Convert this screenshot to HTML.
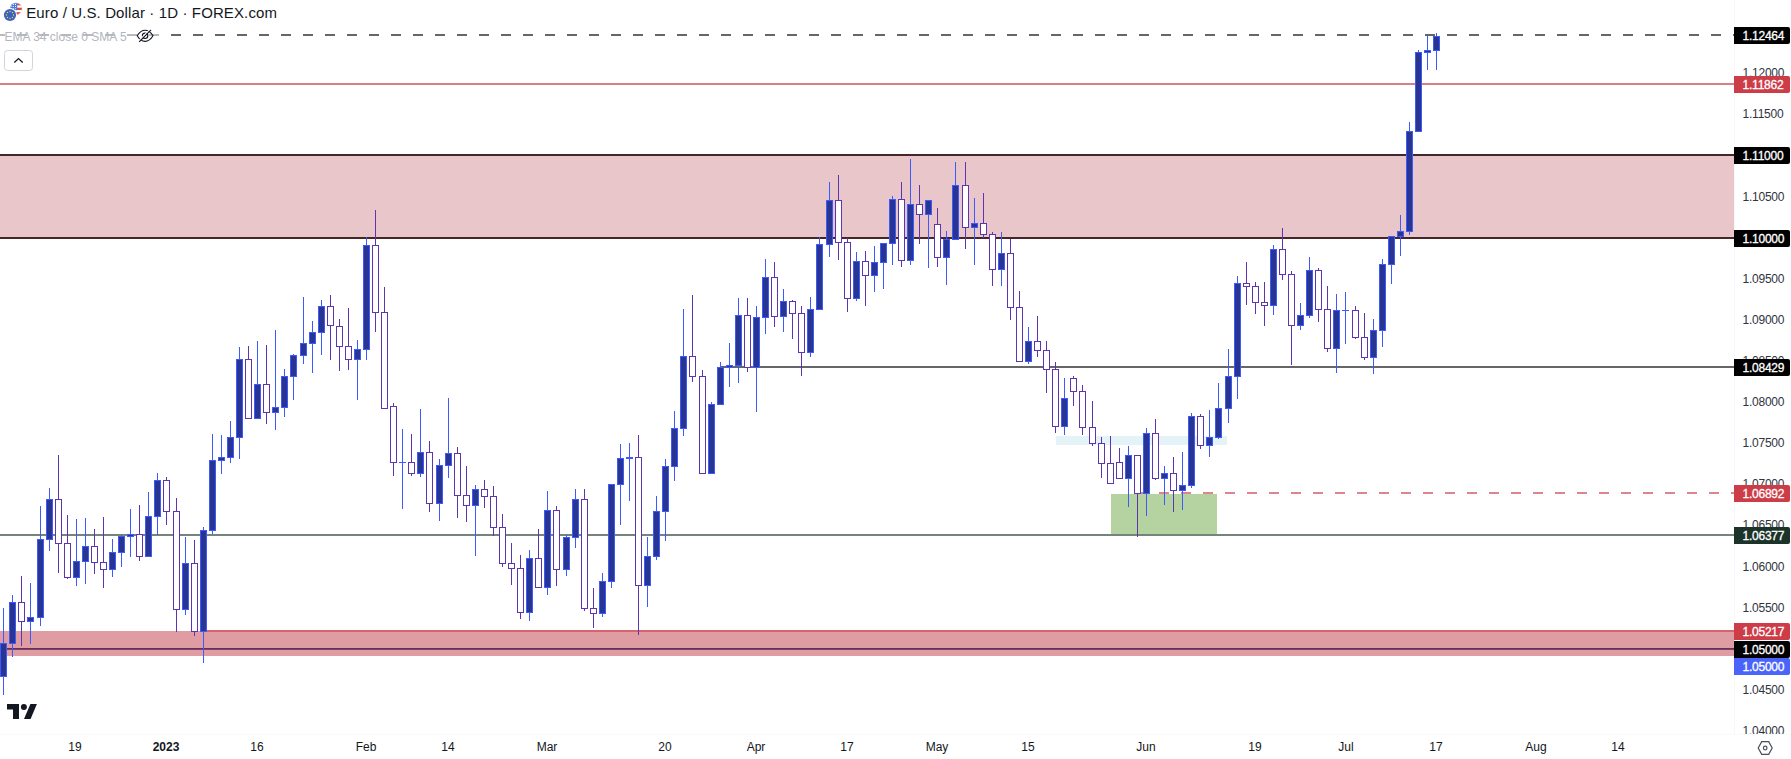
<!DOCTYPE html><html><head><meta charset="utf-8"><title>EURUSD</title><style>html,body{margin:0;padding:0;background:#fff}body{width:1791px;height:759px;overflow:hidden}</style></head><body><svg width="1791" height="759" viewBox="0 0 1791 759" style="display:block;font-family:'Liberation Sans', sans-serif">
<rect width="1791" height="759" fill="#fff"/>
<g shape-rendering="crispEdges">
<rect x="0" y="155" width="1734" height="83" fill="#e9c6ca"/>
<rect x="0" y="154" width="1734" height="2" fill="#47262a"/>
<rect x="0" y="237" width="1734" height="2" fill="#47262a"/>
<rect x="0" y="631" width="1734" height="25" fill="#df9ca3"/>
<rect x="204" y="630" width="1530" height="2" fill="#d6646c"/>
<rect x="0" y="648" width="1734" height="1" fill="#74303a"/>
<rect x="0" y="649" width="1734" height="1" fill="#6c4585"/>
<rect x="1056" y="436" width="171" height="9" fill="#e4f3f8"/>
<rect x="1111" y="494" width="106" height="41" fill="#b5d3a1"/>
<rect x="0" y="83" width="1734" height="2" fill="#d67f86"/>
<rect x="720" y="366" width="1014" height="2" fill="#666666"/>
<rect x="0" y="534" width="1734" height="2" fill="#74857c"/>
<rect x="0.0" y="34" width="5.2" height="2" fill="#666666"/>
<rect x="17.2" y="34" width="10.0" height="2" fill="#666666"/>
<rect x="39.2" y="34" width="10.0" height="2" fill="#666666"/>
<rect x="61.2" y="34" width="10.0" height="2" fill="#666666"/>
<rect x="83.2" y="34" width="10.0" height="2" fill="#666666"/>
<rect x="105.2" y="34" width="10.0" height="2" fill="#666666"/>
<rect x="127.2" y="34" width="10.0" height="2" fill="#666666"/>
<rect x="149.2" y="34" width="10.0" height="2" fill="#666666"/>
<rect x="171.2" y="34" width="10.0" height="2" fill="#666666"/>
<rect x="193.2" y="34" width="10.0" height="2" fill="#666666"/>
<rect x="215.2" y="34" width="10.0" height="2" fill="#666666"/>
<rect x="237.2" y="34" width="10.0" height="2" fill="#666666"/>
<rect x="259.2" y="34" width="10.0" height="2" fill="#666666"/>
<rect x="281.2" y="34" width="10.0" height="2" fill="#666666"/>
<rect x="303.2" y="34" width="10.0" height="2" fill="#666666"/>
<rect x="325.2" y="34" width="10.0" height="2" fill="#666666"/>
<rect x="347.2" y="34" width="10.0" height="2" fill="#666666"/>
<rect x="369.2" y="34" width="10.0" height="2" fill="#666666"/>
<rect x="391.2" y="34" width="10.0" height="2" fill="#666666"/>
<rect x="413.2" y="34" width="10.0" height="2" fill="#666666"/>
<rect x="435.2" y="34" width="10.0" height="2" fill="#666666"/>
<rect x="457.2" y="34" width="10.0" height="2" fill="#666666"/>
<rect x="479.2" y="34" width="10.0" height="2" fill="#666666"/>
<rect x="501.2" y="34" width="10.0" height="2" fill="#666666"/>
<rect x="523.2" y="34" width="10.0" height="2" fill="#666666"/>
<rect x="545.2" y="34" width="10.0" height="2" fill="#666666"/>
<rect x="567.2" y="34" width="10.0" height="2" fill="#666666"/>
<rect x="589.2" y="34" width="10.0" height="2" fill="#666666"/>
<rect x="611.2" y="34" width="10.0" height="2" fill="#666666"/>
<rect x="633.2" y="34" width="10.0" height="2" fill="#666666"/>
<rect x="655.2" y="34" width="10.0" height="2" fill="#666666"/>
<rect x="677.2" y="34" width="10.0" height="2" fill="#666666"/>
<rect x="699.2" y="34" width="10.0" height="2" fill="#666666"/>
<rect x="721.2" y="34" width="10.0" height="2" fill="#666666"/>
<rect x="743.2" y="34" width="10.0" height="2" fill="#666666"/>
<rect x="765.2" y="34" width="10.0" height="2" fill="#666666"/>
<rect x="787.2" y="34" width="10.0" height="2" fill="#666666"/>
<rect x="809.2" y="34" width="10.0" height="2" fill="#666666"/>
<rect x="831.2" y="34" width="10.0" height="2" fill="#666666"/>
<rect x="853.2" y="34" width="10.0" height="2" fill="#666666"/>
<rect x="875.2" y="34" width="10.0" height="2" fill="#666666"/>
<rect x="897.2" y="34" width="10.0" height="2" fill="#666666"/>
<rect x="919.2" y="34" width="10.0" height="2" fill="#666666"/>
<rect x="941.2" y="34" width="10.0" height="2" fill="#666666"/>
<rect x="963.2" y="34" width="10.0" height="2" fill="#666666"/>
<rect x="985.2" y="34" width="10.0" height="2" fill="#666666"/>
<rect x="1007.2" y="34" width="10.0" height="2" fill="#666666"/>
<rect x="1029.2" y="34" width="10.0" height="2" fill="#666666"/>
<rect x="1051.2" y="34" width="10.0" height="2" fill="#666666"/>
<rect x="1073.2" y="34" width="10.0" height="2" fill="#666666"/>
<rect x="1095.2" y="34" width="10.0" height="2" fill="#666666"/>
<rect x="1117.2" y="34" width="10.0" height="2" fill="#666666"/>
<rect x="1139.2" y="34" width="10.0" height="2" fill="#666666"/>
<rect x="1161.2" y="34" width="10.0" height="2" fill="#666666"/>
<rect x="1183.2" y="34" width="10.0" height="2" fill="#666666"/>
<rect x="1205.2" y="34" width="10.0" height="2" fill="#666666"/>
<rect x="1227.2" y="34" width="10.0" height="2" fill="#666666"/>
<rect x="1249.2" y="34" width="10.0" height="2" fill="#666666"/>
<rect x="1271.2" y="34" width="10.0" height="2" fill="#666666"/>
<rect x="1293.2" y="34" width="10.0" height="2" fill="#666666"/>
<rect x="1315.2" y="34" width="10.0" height="2" fill="#666666"/>
<rect x="1337.2" y="34" width="10.0" height="2" fill="#666666"/>
<rect x="1359.2" y="34" width="10.0" height="2" fill="#666666"/>
<rect x="1381.2" y="34" width="10.0" height="2" fill="#666666"/>
<rect x="1403.2" y="34" width="10.0" height="2" fill="#666666"/>
<rect x="1425.2" y="34" width="10.0" height="2" fill="#666666"/>
<rect x="1447.2" y="34" width="10.0" height="2" fill="#666666"/>
<rect x="1469.2" y="34" width="10.0" height="2" fill="#666666"/>
<rect x="1491.2" y="34" width="10.0" height="2" fill="#666666"/>
<rect x="1513.2" y="34" width="10.0" height="2" fill="#666666"/>
<rect x="1535.2" y="34" width="10.0" height="2" fill="#666666"/>
<rect x="1557.2" y="34" width="10.0" height="2" fill="#666666"/>
<rect x="1579.2" y="34" width="10.0" height="2" fill="#666666"/>
<rect x="1601.2" y="34" width="10.0" height="2" fill="#666666"/>
<rect x="1623.2" y="34" width="10.0" height="2" fill="#666666"/>
<rect x="1645.2" y="34" width="10.0" height="2" fill="#666666"/>
<rect x="1667.2" y="34" width="10.0" height="2" fill="#666666"/>
<rect x="1689.2" y="34" width="10.0" height="2" fill="#666666"/>
<rect x="1711.2" y="34" width="10.0" height="2" fill="#666666"/>
<rect x="1733.2" y="34" width="0.8" height="2" fill="#666666"/>
<rect x="1137" y="492" width="10" height="2" fill="#dc8590"/>
<rect x="1159" y="492" width="10" height="2" fill="#dc8590"/>
<rect x="1181" y="492" width="10" height="2" fill="#dc8590"/>
<rect x="1203" y="492" width="10" height="2" fill="#dc8590"/>
<rect x="1225" y="492" width="10" height="2" fill="#dc8590"/>
<rect x="1247" y="492" width="10" height="2" fill="#dc8590"/>
<rect x="1269" y="492" width="10" height="2" fill="#dc8590"/>
<rect x="1291" y="492" width="10" height="2" fill="#dc8590"/>
<rect x="1313" y="492" width="10" height="2" fill="#dc8590"/>
<rect x="1335" y="492" width="10" height="2" fill="#dc8590"/>
<rect x="1357" y="492" width="10" height="2" fill="#dc8590"/>
<rect x="1379" y="492" width="10" height="2" fill="#dc8590"/>
<rect x="1401" y="492" width="10" height="2" fill="#dc8590"/>
<rect x="1423" y="492" width="10" height="2" fill="#dc8590"/>
<rect x="1445" y="492" width="10" height="2" fill="#dc8590"/>
<rect x="1467" y="492" width="10" height="2" fill="#dc8590"/>
<rect x="1489" y="492" width="10" height="2" fill="#dc8590"/>
<rect x="1511" y="492" width="10" height="2" fill="#dc8590"/>
<rect x="1533" y="492" width="10" height="2" fill="#dc8590"/>
<rect x="1555" y="492" width="10" height="2" fill="#dc8590"/>
<rect x="1577" y="492" width="10" height="2" fill="#dc8590"/>
<rect x="1599" y="492" width="10" height="2" fill="#dc8590"/>
<rect x="1621" y="492" width="10" height="2" fill="#dc8590"/>
<rect x="1643" y="492" width="10" height="2" fill="#dc8590"/>
<rect x="1665" y="492" width="10" height="2" fill="#dc8590"/>
<rect x="1687" y="492" width="10" height="2" fill="#dc8590"/>
<rect x="1709" y="492" width="10" height="2" fill="#dc8590"/>
<rect x="1731" y="492" width="3" height="2" fill="#dc8590"/>
</g>
<g shape-rendering="crispEdges">
<rect x="3" y="608" width="1" height="87" fill="#3d5afe"/>
<rect x="0" y="643" width="7" height="34" fill="#3d5afe"/>
<rect x="1" y="644" width="5" height="32" fill="#283593"/>
<rect x="12" y="595" width="1" height="62" fill="#3d5afe"/>
<rect x="9" y="602" width="7" height="42" fill="#3d5afe"/>
<rect x="10" y="603" width="5" height="40" fill="#283593"/>
<rect x="21" y="576" width="1" height="70" fill="#5e35b1"/>
<rect x="18" y="602" width="7" height="20" fill="#5e35b1"/>
<rect x="19" y="603" width="5" height="18" fill="#ffffff"/>
<rect x="30" y="583" width="1" height="61" fill="#3d5afe"/>
<rect x="27" y="617" width="7" height="5" fill="#3d5afe"/>
<rect x="28" y="618" width="5" height="3" fill="#283593"/>
<rect x="40" y="506" width="1" height="120" fill="#3d5afe"/>
<rect x="37" y="539" width="7" height="79" fill="#3d5afe"/>
<rect x="38" y="540" width="5" height="77" fill="#283593"/>
<rect x="49" y="488" width="1" height="63" fill="#3d5afe"/>
<rect x="46" y="499" width="7" height="41" fill="#3d5afe"/>
<rect x="47" y="500" width="5" height="39" fill="#283593"/>
<rect x="58" y="455" width="1" height="118" fill="#5e35b1"/>
<rect x="55" y="499" width="7" height="45" fill="#5e35b1"/>
<rect x="56" y="500" width="5" height="43" fill="#ffffff"/>
<rect x="67" y="515" width="1" height="64" fill="#5e35b1"/>
<rect x="64" y="543" width="7" height="35" fill="#5e35b1"/>
<rect x="65" y="544" width="5" height="33" fill="#ffffff"/>
<rect x="76" y="519" width="1" height="67" fill="#3d5afe"/>
<rect x="73" y="561" width="7" height="17" fill="#3d5afe"/>
<rect x="74" y="562" width="5" height="15" fill="#283593"/>
<rect x="85" y="518" width="1" height="66" fill="#3d5afe"/>
<rect x="82" y="546" width="7" height="16" fill="#3d5afe"/>
<rect x="83" y="547" width="5" height="14" fill="#283593"/>
<rect x="94" y="529" width="1" height="45" fill="#5e35b1"/>
<rect x="91" y="546" width="7" height="17" fill="#5e35b1"/>
<rect x="92" y="547" width="5" height="15" fill="#ffffff"/>
<rect x="103" y="517" width="1" height="71" fill="#5e35b1"/>
<rect x="100" y="562" width="7" height="8" fill="#5e35b1"/>
<rect x="101" y="563" width="5" height="6" fill="#ffffff"/>
<rect x="112" y="539" width="1" height="38" fill="#3d5afe"/>
<rect x="109" y="552" width="7" height="18" fill="#3d5afe"/>
<rect x="110" y="553" width="5" height="16" fill="#283593"/>
<rect x="121" y="535" width="1" height="32" fill="#3d5afe"/>
<rect x="118" y="536" width="7" height="17" fill="#3d5afe"/>
<rect x="119" y="537" width="5" height="15" fill="#283593"/>
<rect x="130" y="509" width="1" height="48" fill="#3d5afe"/>
<rect x="127" y="534" width="7" height="3" fill="#3d5afe"/>
<rect x="128" y="535" width="5" height="1" fill="#283593"/>
<rect x="139" y="505" width="1" height="56" fill="#5e35b1"/>
<rect x="136" y="534" width="7" height="23" fill="#5e35b1"/>
<rect x="137" y="535" width="5" height="21" fill="#ffffff"/>
<rect x="148" y="492" width="1" height="65" fill="#3d5afe"/>
<rect x="145" y="516" width="7" height="41" fill="#3d5afe"/>
<rect x="146" y="517" width="5" height="39" fill="#283593"/>
<rect x="157" y="473" width="1" height="62" fill="#3d5afe"/>
<rect x="154" y="480" width="7" height="37" fill="#3d5afe"/>
<rect x="155" y="481" width="5" height="35" fill="#283593"/>
<rect x="166" y="477" width="1" height="48" fill="#5e35b1"/>
<rect x="163" y="480" width="7" height="32" fill="#5e35b1"/>
<rect x="164" y="481" width="5" height="30" fill="#ffffff"/>
<rect x="176" y="498" width="1" height="134" fill="#5e35b1"/>
<rect x="173" y="511" width="7" height="99" fill="#5e35b1"/>
<rect x="174" y="512" width="5" height="97" fill="#ffffff"/>
<rect x="185" y="537" width="1" height="78" fill="#3d5afe"/>
<rect x="182" y="563" width="7" height="47" fill="#3d5afe"/>
<rect x="183" y="564" width="5" height="45" fill="#283593"/>
<rect x="194" y="540" width="1" height="96" fill="#5e35b1"/>
<rect x="191" y="563" width="7" height="69" fill="#5e35b1"/>
<rect x="192" y="564" width="5" height="67" fill="#ffffff"/>
<rect x="203" y="527" width="1" height="136" fill="#3d5afe"/>
<rect x="200" y="530" width="7" height="102" fill="#3d5afe"/>
<rect x="201" y="531" width="5" height="100" fill="#283593"/>
<rect x="212" y="434" width="1" height="100" fill="#3d5afe"/>
<rect x="209" y="460" width="7" height="71" fill="#3d5afe"/>
<rect x="210" y="461" width="5" height="69" fill="#283593"/>
<rect x="221" y="435" width="1" height="39" fill="#3d5afe"/>
<rect x="218" y="457" width="7" height="4" fill="#3d5afe"/>
<rect x="219" y="458" width="5" height="2" fill="#283593"/>
<rect x="230" y="421" width="1" height="42" fill="#3d5afe"/>
<rect x="227" y="437" width="7" height="21" fill="#3d5afe"/>
<rect x="228" y="438" width="5" height="19" fill="#283593"/>
<rect x="239" y="347" width="1" height="112" fill="#3d5afe"/>
<rect x="236" y="359" width="7" height="79" fill="#3d5afe"/>
<rect x="237" y="360" width="5" height="77" fill="#283593"/>
<rect x="248" y="346" width="1" height="73" fill="#5e35b1"/>
<rect x="245" y="359" width="7" height="60" fill="#5e35b1"/>
<rect x="246" y="360" width="5" height="58" fill="#ffffff"/>
<rect x="257" y="341" width="1" height="78" fill="#3d5afe"/>
<rect x="254" y="384" width="7" height="35" fill="#3d5afe"/>
<rect x="255" y="385" width="5" height="33" fill="#283593"/>
<rect x="266" y="345" width="1" height="79" fill="#5e35b1"/>
<rect x="263" y="384" width="7" height="29" fill="#5e35b1"/>
<rect x="264" y="385" width="5" height="27" fill="#ffffff"/>
<rect x="275" y="330" width="1" height="100" fill="#3d5afe"/>
<rect x="272" y="407" width="7" height="6" fill="#3d5afe"/>
<rect x="273" y="408" width="5" height="4" fill="#283593"/>
<rect x="284" y="369" width="1" height="48" fill="#3d5afe"/>
<rect x="281" y="376" width="7" height="32" fill="#3d5afe"/>
<rect x="282" y="377" width="5" height="30" fill="#283593"/>
<rect x="293" y="354" width="1" height="46" fill="#3d5afe"/>
<rect x="290" y="355" width="7" height="22" fill="#3d5afe"/>
<rect x="291" y="356" width="5" height="20" fill="#283593"/>
<rect x="303" y="297" width="1" height="67" fill="#3d5afe"/>
<rect x="300" y="343" width="7" height="13" fill="#3d5afe"/>
<rect x="301" y="344" width="5" height="11" fill="#283593"/>
<rect x="312" y="321" width="1" height="52" fill="#3d5afe"/>
<rect x="309" y="332" width="7" height="12" fill="#3d5afe"/>
<rect x="310" y="333" width="5" height="10" fill="#283593"/>
<rect x="321" y="300" width="1" height="55" fill="#3d5afe"/>
<rect x="318" y="306" width="7" height="27" fill="#3d5afe"/>
<rect x="319" y="307" width="5" height="25" fill="#283593"/>
<rect x="330" y="295" width="1" height="65" fill="#5e35b1"/>
<rect x="327" y="306" width="7" height="20" fill="#5e35b1"/>
<rect x="328" y="307" width="5" height="18" fill="#ffffff"/>
<rect x="339" y="319" width="1" height="52" fill="#5e35b1"/>
<rect x="336" y="326" width="7" height="21" fill="#5e35b1"/>
<rect x="337" y="327" width="5" height="19" fill="#ffffff"/>
<rect x="348" y="308" width="1" height="62" fill="#5e35b1"/>
<rect x="345" y="346" width="7" height="14" fill="#5e35b1"/>
<rect x="346" y="347" width="5" height="12" fill="#ffffff"/>
<rect x="357" y="340" width="1" height="60" fill="#3d5afe"/>
<rect x="354" y="349" width="7" height="11" fill="#3d5afe"/>
<rect x="355" y="350" width="5" height="9" fill="#283593"/>
<rect x="366" y="237" width="1" height="123" fill="#3d5afe"/>
<rect x="363" y="245" width="7" height="105" fill="#3d5afe"/>
<rect x="364" y="246" width="5" height="103" fill="#283593"/>
<rect x="375" y="210" width="1" height="122" fill="#5e35b1"/>
<rect x="372" y="245" width="7" height="68" fill="#5e35b1"/>
<rect x="373" y="246" width="5" height="66" fill="#ffffff"/>
<rect x="384" y="287" width="1" height="122" fill="#5e35b1"/>
<rect x="381" y="312" width="7" height="97" fill="#5e35b1"/>
<rect x="382" y="313" width="5" height="95" fill="#ffffff"/>
<rect x="393" y="403" width="1" height="73" fill="#5e35b1"/>
<rect x="390" y="406" width="7" height="57" fill="#5e35b1"/>
<rect x="391" y="407" width="5" height="55" fill="#ffffff"/>
<rect x="402" y="429" width="1" height="80" fill="#3d5afe"/>
<rect x="399" y="462" width="7" height="1" fill="#3d5afe"/>
<rect x="411" y="434" width="1" height="42" fill="#5e35b1"/>
<rect x="408" y="462" width="7" height="12" fill="#5e35b1"/>
<rect x="409" y="463" width="5" height="10" fill="#ffffff"/>
<rect x="420" y="409" width="1" height="68" fill="#3d5afe"/>
<rect x="417" y="452" width="7" height="22" fill="#3d5afe"/>
<rect x="418" y="453" width="5" height="20" fill="#283593"/>
<rect x="429" y="441" width="1" height="71" fill="#5e35b1"/>
<rect x="426" y="452" width="7" height="52" fill="#5e35b1"/>
<rect x="427" y="453" width="5" height="50" fill="#ffffff"/>
<rect x="439" y="459" width="1" height="62" fill="#3d5afe"/>
<rect x="436" y="465" width="7" height="39" fill="#3d5afe"/>
<rect x="437" y="466" width="5" height="37" fill="#283593"/>
<rect x="448" y="398" width="1" height="80" fill="#3d5afe"/>
<rect x="445" y="453" width="7" height="13" fill="#3d5afe"/>
<rect x="446" y="454" width="5" height="11" fill="#283593"/>
<rect x="457" y="447" width="1" height="71" fill="#5e35b1"/>
<rect x="454" y="453" width="7" height="43" fill="#5e35b1"/>
<rect x="455" y="454" width="5" height="41" fill="#ffffff"/>
<rect x="466" y="466" width="1" height="56" fill="#5e35b1"/>
<rect x="463" y="495" width="7" height="11" fill="#5e35b1"/>
<rect x="464" y="496" width="5" height="9" fill="#ffffff"/>
<rect x="475" y="485" width="1" height="71" fill="#3d5afe"/>
<rect x="472" y="489" width="7" height="17" fill="#3d5afe"/>
<rect x="473" y="490" width="5" height="15" fill="#283593"/>
<rect x="484" y="480" width="1" height="28" fill="#5e35b1"/>
<rect x="481" y="489" width="7" height="8" fill="#5e35b1"/>
<rect x="482" y="490" width="5" height="6" fill="#ffffff"/>
<rect x="493" y="486" width="1" height="50" fill="#5e35b1"/>
<rect x="490" y="496" width="7" height="32" fill="#5e35b1"/>
<rect x="491" y="497" width="5" height="30" fill="#ffffff"/>
<rect x="502" y="514" width="1" height="53" fill="#5e35b1"/>
<rect x="499" y="527" width="7" height="37" fill="#5e35b1"/>
<rect x="500" y="528" width="5" height="35" fill="#ffffff"/>
<rect x="511" y="543" width="1" height="42" fill="#5e35b1"/>
<rect x="508" y="563" width="7" height="6" fill="#5e35b1"/>
<rect x="509" y="564" width="5" height="4" fill="#ffffff"/>
<rect x="520" y="555" width="1" height="64" fill="#5e35b1"/>
<rect x="517" y="568" width="7" height="45" fill="#5e35b1"/>
<rect x="518" y="569" width="5" height="43" fill="#ffffff"/>
<rect x="529" y="550" width="1" height="71" fill="#3d5afe"/>
<rect x="526" y="558" width="7" height="55" fill="#3d5afe"/>
<rect x="527" y="559" width="5" height="53" fill="#283593"/>
<rect x="538" y="529" width="1" height="59" fill="#5e35b1"/>
<rect x="535" y="558" width="7" height="30" fill="#5e35b1"/>
<rect x="536" y="559" width="5" height="28" fill="#ffffff"/>
<rect x="547" y="491" width="1" height="104" fill="#3d5afe"/>
<rect x="544" y="510" width="7" height="78" fill="#3d5afe"/>
<rect x="545" y="511" width="5" height="76" fill="#283593"/>
<rect x="556" y="506" width="1" height="80" fill="#5e35b1"/>
<rect x="553" y="510" width="7" height="60" fill="#5e35b1"/>
<rect x="554" y="511" width="5" height="58" fill="#ffffff"/>
<rect x="566" y="535" width="1" height="41" fill="#3d5afe"/>
<rect x="563" y="537" width="7" height="33" fill="#3d5afe"/>
<rect x="564" y="538" width="5" height="31" fill="#283593"/>
<rect x="575" y="489" width="1" height="59" fill="#3d5afe"/>
<rect x="572" y="499" width="7" height="39" fill="#3d5afe"/>
<rect x="573" y="500" width="5" height="37" fill="#283593"/>
<rect x="584" y="489" width="1" height="122" fill="#5e35b1"/>
<rect x="581" y="499" width="7" height="110" fill="#5e35b1"/>
<rect x="582" y="500" width="5" height="108" fill="#ffffff"/>
<rect x="593" y="588" width="1" height="40" fill="#5e35b1"/>
<rect x="590" y="608" width="7" height="6" fill="#5e35b1"/>
<rect x="591" y="609" width="5" height="4" fill="#ffffff"/>
<rect x="602" y="573" width="1" height="44" fill="#3d5afe"/>
<rect x="599" y="581" width="7" height="33" fill="#3d5afe"/>
<rect x="600" y="582" width="5" height="31" fill="#283593"/>
<rect x="611" y="484" width="1" height="104" fill="#3d5afe"/>
<rect x="608" y="484" width="7" height="98" fill="#3d5afe"/>
<rect x="609" y="485" width="5" height="96" fill="#283593"/>
<rect x="620" y="444" width="1" height="81" fill="#3d5afe"/>
<rect x="617" y="458" width="7" height="27" fill="#3d5afe"/>
<rect x="618" y="459" width="5" height="25" fill="#283593"/>
<rect x="629" y="443" width="1" height="58" fill="#3d5afe"/>
<rect x="626" y="457" width="7" height="2" fill="#3d5afe"/>
<rect x="638" y="435" width="1" height="200" fill="#5e35b1"/>
<rect x="635" y="457" width="7" height="129" fill="#5e35b1"/>
<rect x="636" y="458" width="5" height="127" fill="#ffffff"/>
<rect x="647" y="537" width="1" height="70" fill="#3d5afe"/>
<rect x="644" y="556" width="7" height="30" fill="#3d5afe"/>
<rect x="645" y="557" width="5" height="28" fill="#283593"/>
<rect x="656" y="496" width="1" height="64" fill="#3d5afe"/>
<rect x="653" y="511" width="7" height="46" fill="#3d5afe"/>
<rect x="654" y="512" width="5" height="44" fill="#283593"/>
<rect x="665" y="459" width="1" height="82" fill="#3d5afe"/>
<rect x="662" y="466" width="7" height="46" fill="#3d5afe"/>
<rect x="663" y="467" width="5" height="44" fill="#283593"/>
<rect x="674" y="411" width="1" height="70" fill="#3d5afe"/>
<rect x="671" y="428" width="7" height="39" fill="#3d5afe"/>
<rect x="672" y="429" width="5" height="37" fill="#283593"/>
<rect x="683" y="309" width="1" height="127" fill="#3d5afe"/>
<rect x="680" y="356" width="7" height="73" fill="#3d5afe"/>
<rect x="681" y="357" width="5" height="71" fill="#283593"/>
<rect x="692" y="295" width="1" height="87" fill="#5e35b1"/>
<rect x="689" y="356" width="7" height="21" fill="#5e35b1"/>
<rect x="690" y="357" width="5" height="19" fill="#ffffff"/>
<rect x="702" y="370" width="1" height="104" fill="#5e35b1"/>
<rect x="699" y="376" width="7" height="98" fill="#5e35b1"/>
<rect x="700" y="377" width="5" height="96" fill="#ffffff"/>
<rect x="711" y="402" width="1" height="72" fill="#3d5afe"/>
<rect x="708" y="404" width="7" height="70" fill="#3d5afe"/>
<rect x="709" y="405" width="5" height="68" fill="#283593"/>
<rect x="720" y="362" width="1" height="43" fill="#3d5afe"/>
<rect x="717" y="367" width="7" height="38" fill="#3d5afe"/>
<rect x="718" y="368" width="5" height="36" fill="#283593"/>
<rect x="729" y="343" width="1" height="44" fill="#3d5afe"/>
<rect x="726" y="365" width="7" height="3" fill="#3d5afe"/>
<rect x="727" y="366" width="5" height="1" fill="#283593"/>
<rect x="738" y="298" width="1" height="85" fill="#3d5afe"/>
<rect x="735" y="315" width="7" height="51" fill="#3d5afe"/>
<rect x="736" y="316" width="5" height="49" fill="#283593"/>
<rect x="747" y="298" width="1" height="74" fill="#5e35b1"/>
<rect x="744" y="315" width="7" height="53" fill="#5e35b1"/>
<rect x="745" y="316" width="5" height="51" fill="#ffffff"/>
<rect x="756" y="306" width="1" height="106" fill="#3d5afe"/>
<rect x="753" y="317" width="7" height="51" fill="#3d5afe"/>
<rect x="754" y="318" width="5" height="49" fill="#283593"/>
<rect x="765" y="259" width="1" height="75" fill="#3d5afe"/>
<rect x="762" y="277" width="7" height="41" fill="#3d5afe"/>
<rect x="763" y="278" width="5" height="39" fill="#283593"/>
<rect x="774" y="262" width="1" height="65" fill="#5e35b1"/>
<rect x="771" y="277" width="7" height="40" fill="#5e35b1"/>
<rect x="772" y="278" width="5" height="38" fill="#ffffff"/>
<rect x="783" y="289" width="1" height="43" fill="#3d5afe"/>
<rect x="780" y="301" width="7" height="16" fill="#3d5afe"/>
<rect x="781" y="302" width="5" height="14" fill="#283593"/>
<rect x="792" y="300" width="1" height="39" fill="#5e35b1"/>
<rect x="789" y="301" width="7" height="13" fill="#5e35b1"/>
<rect x="790" y="302" width="5" height="11" fill="#ffffff"/>
<rect x="801" y="306" width="1" height="70" fill="#5e35b1"/>
<rect x="798" y="313" width="7" height="40" fill="#5e35b1"/>
<rect x="799" y="314" width="5" height="38" fill="#ffffff"/>
<rect x="810" y="297" width="1" height="60" fill="#3d5afe"/>
<rect x="807" y="309" width="7" height="44" fill="#3d5afe"/>
<rect x="808" y="310" width="5" height="42" fill="#283593"/>
<rect x="819" y="237" width="1" height="73" fill="#3d5afe"/>
<rect x="816" y="244" width="7" height="66" fill="#3d5afe"/>
<rect x="817" y="245" width="5" height="64" fill="#283593"/>
<rect x="829" y="182" width="1" height="75" fill="#3d5afe"/>
<rect x="826" y="200" width="7" height="45" fill="#3d5afe"/>
<rect x="827" y="201" width="5" height="43" fill="#283593"/>
<rect x="838" y="175" width="1" height="85" fill="#5e35b1"/>
<rect x="835" y="200" width="7" height="43" fill="#5e35b1"/>
<rect x="836" y="201" width="5" height="41" fill="#ffffff"/>
<rect x="847" y="238" width="1" height="74" fill="#5e35b1"/>
<rect x="844" y="242" width="7" height="57" fill="#5e35b1"/>
<rect x="845" y="243" width="5" height="55" fill="#ffffff"/>
<rect x="856" y="252" width="1" height="49" fill="#3d5afe"/>
<rect x="853" y="261" width="7" height="38" fill="#3d5afe"/>
<rect x="854" y="262" width="5" height="36" fill="#283593"/>
<rect x="865" y="251" width="1" height="55" fill="#5e35b1"/>
<rect x="862" y="261" width="7" height="15" fill="#5e35b1"/>
<rect x="863" y="262" width="5" height="13" fill="#ffffff"/>
<rect x="874" y="246" width="1" height="46" fill="#3d5afe"/>
<rect x="871" y="262" width="7" height="14" fill="#3d5afe"/>
<rect x="872" y="263" width="5" height="12" fill="#283593"/>
<rect x="883" y="243" width="1" height="46" fill="#3d5afe"/>
<rect x="880" y="243" width="7" height="20" fill="#3d5afe"/>
<rect x="881" y="244" width="5" height="18" fill="#283593"/>
<rect x="892" y="196" width="1" height="69" fill="#3d5afe"/>
<rect x="889" y="199" width="7" height="45" fill="#3d5afe"/>
<rect x="890" y="200" width="5" height="43" fill="#283593"/>
<rect x="901" y="182" width="1" height="85" fill="#5e35b1"/>
<rect x="898" y="199" width="7" height="62" fill="#5e35b1"/>
<rect x="899" y="200" width="5" height="60" fill="#ffffff"/>
<rect x="910" y="159" width="1" height="106" fill="#3d5afe"/>
<rect x="907" y="204" width="7" height="57" fill="#3d5afe"/>
<rect x="908" y="205" width="5" height="55" fill="#283593"/>
<rect x="919" y="185" width="1" height="59" fill="#5e35b1"/>
<rect x="916" y="204" width="7" height="11" fill="#5e35b1"/>
<rect x="917" y="205" width="5" height="9" fill="#ffffff"/>
<rect x="928" y="200" width="1" height="68" fill="#3d5afe"/>
<rect x="925" y="200" width="7" height="15" fill="#3d5afe"/>
<rect x="926" y="201" width="5" height="13" fill="#283593"/>
<rect x="937" y="208" width="1" height="59" fill="#5e35b1"/>
<rect x="934" y="224" width="7" height="34" fill="#5e35b1"/>
<rect x="935" y="225" width="5" height="32" fill="#ffffff"/>
<rect x="946" y="231" width="1" height="54" fill="#3d5afe"/>
<rect x="943" y="239" width="7" height="19" fill="#3d5afe"/>
<rect x="944" y="240" width="5" height="17" fill="#283593"/>
<rect x="955" y="162" width="1" height="78" fill="#3d5afe"/>
<rect x="952" y="185" width="7" height="55" fill="#3d5afe"/>
<rect x="953" y="186" width="5" height="53" fill="#283593"/>
<rect x="965" y="162" width="1" height="87" fill="#5e35b1"/>
<rect x="962" y="185" width="7" height="43" fill="#5e35b1"/>
<rect x="963" y="186" width="5" height="41" fill="#ffffff"/>
<rect x="974" y="198" width="1" height="67" fill="#3d5afe"/>
<rect x="971" y="223" width="7" height="5" fill="#3d5afe"/>
<rect x="972" y="224" width="5" height="3" fill="#283593"/>
<rect x="983" y="193" width="1" height="45" fill="#5e35b1"/>
<rect x="980" y="223" width="7" height="12" fill="#5e35b1"/>
<rect x="981" y="224" width="5" height="10" fill="#ffffff"/>
<rect x="992" y="232" width="1" height="54" fill="#5e35b1"/>
<rect x="989" y="234" width="7" height="36" fill="#5e35b1"/>
<rect x="990" y="235" width="5" height="34" fill="#ffffff"/>
<rect x="1001" y="232" width="1" height="54" fill="#3d5afe"/>
<rect x="998" y="253" width="7" height="17" fill="#3d5afe"/>
<rect x="999" y="254" width="5" height="15" fill="#283593"/>
<rect x="1010" y="239" width="1" height="81" fill="#5e35b1"/>
<rect x="1007" y="253" width="7" height="55" fill="#5e35b1"/>
<rect x="1008" y="254" width="5" height="53" fill="#ffffff"/>
<rect x="1019" y="291" width="1" height="71" fill="#5e35b1"/>
<rect x="1016" y="307" width="7" height="55" fill="#5e35b1"/>
<rect x="1017" y="308" width="5" height="53" fill="#ffffff"/>
<rect x="1028" y="327" width="1" height="37" fill="#3d5afe"/>
<rect x="1025" y="341" width="7" height="21" fill="#3d5afe"/>
<rect x="1026" y="342" width="5" height="19" fill="#283593"/>
<rect x="1037" y="316" width="1" height="41" fill="#5e35b1"/>
<rect x="1034" y="341" width="7" height="10" fill="#5e35b1"/>
<rect x="1035" y="342" width="5" height="8" fill="#ffffff"/>
<rect x="1046" y="341" width="1" height="52" fill="#5e35b1"/>
<rect x="1043" y="350" width="7" height="20" fill="#5e35b1"/>
<rect x="1044" y="351" width="5" height="18" fill="#ffffff"/>
<rect x="1055" y="362" width="1" height="71" fill="#5e35b1"/>
<rect x="1052" y="369" width="7" height="58" fill="#5e35b1"/>
<rect x="1053" y="370" width="5" height="56" fill="#ffffff"/>
<rect x="1064" y="378" width="1" height="57" fill="#3d5afe"/>
<rect x="1061" y="398" width="7" height="29" fill="#3d5afe"/>
<rect x="1062" y="399" width="5" height="27" fill="#283593"/>
<rect x="1073" y="376" width="1" height="30" fill="#5e35b1"/>
<rect x="1070" y="378" width="7" height="14" fill="#5e35b1"/>
<rect x="1071" y="379" width="5" height="12" fill="#ffffff"/>
<rect x="1082" y="385" width="1" height="50" fill="#5e35b1"/>
<rect x="1079" y="391" width="7" height="37" fill="#5e35b1"/>
<rect x="1080" y="392" width="5" height="35" fill="#ffffff"/>
<rect x="1092" y="401" width="1" height="45" fill="#5e35b1"/>
<rect x="1089" y="427" width="7" height="17" fill="#5e35b1"/>
<rect x="1090" y="428" width="5" height="15" fill="#ffffff"/>
<rect x="1101" y="437" width="1" height="41" fill="#5e35b1"/>
<rect x="1098" y="443" width="7" height="21" fill="#5e35b1"/>
<rect x="1099" y="444" width="5" height="19" fill="#ffffff"/>
<rect x="1110" y="436" width="1" height="48" fill="#5e35b1"/>
<rect x="1107" y="463" width="7" height="21" fill="#5e35b1"/>
<rect x="1108" y="464" width="5" height="19" fill="#ffffff"/>
<rect x="1119" y="448" width="1" height="31" fill="#5e35b1"/>
<rect x="1116" y="462" width="7" height="17" fill="#5e35b1"/>
<rect x="1117" y="463" width="5" height="15" fill="#ffffff"/>
<rect x="1128" y="446" width="1" height="61" fill="#3d5afe"/>
<rect x="1125" y="455" width="7" height="24" fill="#3d5afe"/>
<rect x="1126" y="456" width="5" height="22" fill="#283593"/>
<rect x="1137" y="455" width="1" height="82" fill="#5e35b1"/>
<rect x="1134" y="455" width="7" height="39" fill="#5e35b1"/>
<rect x="1135" y="456" width="5" height="37" fill="#ffffff"/>
<rect x="1146" y="428" width="1" height="88" fill="#3d5afe"/>
<rect x="1143" y="433" width="7" height="61" fill="#3d5afe"/>
<rect x="1144" y="434" width="5" height="59" fill="#283593"/>
<rect x="1155" y="419" width="1" height="61" fill="#5e35b1"/>
<rect x="1152" y="433" width="7" height="46" fill="#5e35b1"/>
<rect x="1153" y="434" width="5" height="44" fill="#ffffff"/>
<rect x="1164" y="466" width="1" height="39" fill="#3d5afe"/>
<rect x="1161" y="473" width="7" height="6" fill="#3d5afe"/>
<rect x="1162" y="474" width="5" height="4" fill="#283593"/>
<rect x="1173" y="457" width="1" height="55" fill="#5e35b1"/>
<rect x="1170" y="473" width="7" height="18" fill="#5e35b1"/>
<rect x="1171" y="474" width="5" height="16" fill="#ffffff"/>
<rect x="1182" y="452" width="1" height="58" fill="#3d5afe"/>
<rect x="1179" y="485" width="7" height="6" fill="#3d5afe"/>
<rect x="1180" y="486" width="5" height="4" fill="#283593"/>
<rect x="1191" y="413" width="1" height="75" fill="#3d5afe"/>
<rect x="1188" y="416" width="7" height="70" fill="#3d5afe"/>
<rect x="1189" y="417" width="5" height="68" fill="#283593"/>
<rect x="1200" y="414" width="1" height="35" fill="#5e35b1"/>
<rect x="1197" y="416" width="7" height="30" fill="#5e35b1"/>
<rect x="1198" y="417" width="5" height="28" fill="#ffffff"/>
<rect x="1209" y="410" width="1" height="47" fill="#3d5afe"/>
<rect x="1206" y="437" width="7" height="9" fill="#3d5afe"/>
<rect x="1207" y="438" width="5" height="7" fill="#283593"/>
<rect x="1218" y="383" width="1" height="56" fill="#3d5afe"/>
<rect x="1215" y="408" width="7" height="30" fill="#3d5afe"/>
<rect x="1216" y="409" width="5" height="28" fill="#283593"/>
<rect x="1228" y="349" width="1" height="74" fill="#3d5afe"/>
<rect x="1225" y="376" width="7" height="33" fill="#3d5afe"/>
<rect x="1226" y="377" width="5" height="31" fill="#283593"/>
<rect x="1237" y="276" width="1" height="123" fill="#3d5afe"/>
<rect x="1234" y="283" width="7" height="94" fill="#3d5afe"/>
<rect x="1235" y="284" width="5" height="92" fill="#283593"/>
<rect x="1246" y="262" width="1" height="43" fill="#5e35b1"/>
<rect x="1243" y="283" width="7" height="4" fill="#5e35b1"/>
<rect x="1244" y="284" width="5" height="2" fill="#ffffff"/>
<rect x="1255" y="282" width="1" height="32" fill="#5e35b1"/>
<rect x="1252" y="286" width="7" height="17" fill="#5e35b1"/>
<rect x="1253" y="287" width="5" height="15" fill="#ffffff"/>
<rect x="1264" y="282" width="1" height="44" fill="#5e35b1"/>
<rect x="1261" y="302" width="7" height="4" fill="#5e35b1"/>
<rect x="1262" y="303" width="5" height="2" fill="#ffffff"/>
<rect x="1273" y="245" width="1" height="70" fill="#3d5afe"/>
<rect x="1270" y="249" width="7" height="57" fill="#3d5afe"/>
<rect x="1271" y="250" width="5" height="55" fill="#283593"/>
<rect x="1282" y="228" width="1" height="52" fill="#5e35b1"/>
<rect x="1279" y="249" width="7" height="26" fill="#5e35b1"/>
<rect x="1280" y="250" width="5" height="24" fill="#ffffff"/>
<rect x="1291" y="271" width="1" height="94" fill="#5e35b1"/>
<rect x="1288" y="274" width="7" height="52" fill="#5e35b1"/>
<rect x="1289" y="275" width="5" height="50" fill="#ffffff"/>
<rect x="1300" y="303" width="1" height="27" fill="#3d5afe"/>
<rect x="1297" y="315" width="7" height="11" fill="#3d5afe"/>
<rect x="1298" y="316" width="5" height="9" fill="#283593"/>
<rect x="1309" y="257" width="1" height="61" fill="#3d5afe"/>
<rect x="1306" y="270" width="7" height="46" fill="#3d5afe"/>
<rect x="1307" y="271" width="5" height="44" fill="#283593"/>
<rect x="1318" y="268" width="1" height="54" fill="#5e35b1"/>
<rect x="1315" y="270" width="7" height="40" fill="#5e35b1"/>
<rect x="1316" y="271" width="5" height="38" fill="#ffffff"/>
<rect x="1327" y="286" width="1" height="66" fill="#5e35b1"/>
<rect x="1324" y="309" width="7" height="40" fill="#5e35b1"/>
<rect x="1325" y="310" width="5" height="38" fill="#ffffff"/>
<rect x="1336" y="294" width="1" height="79" fill="#3d5afe"/>
<rect x="1333" y="310" width="7" height="39" fill="#3d5afe"/>
<rect x="1334" y="311" width="5" height="37" fill="#283593"/>
<rect x="1345" y="292" width="1" height="52" fill="#3d5afe"/>
<rect x="1342" y="310" width="7" height="1" fill="#3d5afe"/>
<rect x="1355" y="306" width="1" height="33" fill="#5e35b1"/>
<rect x="1352" y="310" width="7" height="28" fill="#5e35b1"/>
<rect x="1353" y="311" width="5" height="26" fill="#ffffff"/>
<rect x="1364" y="313" width="1" height="47" fill="#5e35b1"/>
<rect x="1361" y="337" width="7" height="21" fill="#5e35b1"/>
<rect x="1362" y="338" width="5" height="19" fill="#ffffff"/>
<rect x="1373" y="319" width="1" height="55" fill="#3d5afe"/>
<rect x="1370" y="330" width="7" height="28" fill="#3d5afe"/>
<rect x="1371" y="331" width="5" height="26" fill="#283593"/>
<rect x="1382" y="259" width="1" height="88" fill="#3d5afe"/>
<rect x="1379" y="264" width="7" height="67" fill="#3d5afe"/>
<rect x="1380" y="265" width="5" height="65" fill="#283593"/>
<rect x="1391" y="236" width="1" height="48" fill="#3d5afe"/>
<rect x="1388" y="236" width="7" height="29" fill="#3d5afe"/>
<rect x="1389" y="237" width="5" height="27" fill="#283593"/>
<rect x="1400" y="215" width="1" height="41" fill="#3d5afe"/>
<rect x="1397" y="231" width="7" height="6" fill="#3d5afe"/>
<rect x="1398" y="232" width="5" height="4" fill="#283593"/>
<rect x="1409" y="122" width="1" height="113" fill="#3d5afe"/>
<rect x="1406" y="131" width="7" height="101" fill="#3d5afe"/>
<rect x="1407" y="132" width="5" height="99" fill="#283593"/>
<rect x="1418" y="50" width="1" height="82" fill="#3d5afe"/>
<rect x="1415" y="52" width="7" height="80" fill="#3d5afe"/>
<rect x="1416" y="53" width="5" height="78" fill="#283593"/>
<rect x="1427" y="35" width="1" height="35" fill="#3d5afe"/>
<rect x="1424" y="50" width="7" height="3" fill="#3d5afe"/>
<rect x="1425" y="51" width="5" height="1" fill="#283593"/>
<rect x="1436" y="33" width="1" height="37" fill="#3d5afe"/>
<rect x="1433" y="36" width="7" height="15" fill="#3d5afe"/>
<rect x="1434" y="37" width="5" height="13" fill="#283593"/>
</g>
<rect x="1734" y="0" width="57" height="759" fill="#fff"/>
<rect x="0" y="734" width="1791" height="25" fill="#fff"/>
<rect x="1734" y="0" width="1" height="734" fill="#f7f8fa"/><rect x="0" y="734" width="1791" height="1" fill="#f8f9fb"/>
<g font-size="12" fill="#30343e" letter-spacing="-0.25" clip-path="url(#pc)">
<defs><clipPath id="pc"><rect x="0" y="0" width="1791" height="734"/></clipPath></defs>
<text x="1742.6" y="734.9">1.04000</text>
<text x="1742.6" y="693.8">1.04500</text>
<text x="1742.6" y="652.7">1.05000</text>
<text x="1742.6" y="611.6">1.05500</text>
<text x="1742.6" y="570.5">1.06000</text>
<text x="1742.6" y="529.4">1.06500</text>
<text x="1742.6" y="488.3">1.07000</text>
<text x="1742.6" y="447.1">1.07500</text>
<text x="1742.6" y="406.0">1.08000</text>
<text x="1742.6" y="364.9">1.08500</text>
<text x="1742.6" y="323.8">1.09000</text>
<text x="1742.6" y="282.7">1.09500</text>
<text x="1742.6" y="241.6">1.10000</text>
<text x="1742.6" y="200.5">1.10500</text>
<text x="1742.6" y="159.4">1.11000</text>
<text x="1742.6" y="118.3">1.11500</text>
<text x="1742.6" y="77.2">1.12000</text>
</g>
<path d="M1734 27h54a2 2 0 0 1 2 2v13a2 2 0 0 1-2 2h-54z" fill="#000"/>
<text x="1742.6" y="39.8" font-size="12" fill="#fff" letter-spacing="-0.25" stroke="#fff" stroke-width="0.3">1.12464</text>
<path d="M1734 76h54a2 2 0 0 1 2 2v13a2 2 0 0 1-2 2h-54z" fill="#cc3d48"/>
<text x="1742.6" y="88.8" font-size="12" fill="#fff" letter-spacing="-0.25" stroke="#fff" stroke-width="0.3">1.11862</text>
<path d="M1734 147h54a2 2 0 0 1 2 2v13a2 2 0 0 1-2 2h-54z" fill="#000"/>
<text x="1742.6" y="159.8" font-size="12" fill="#fff" letter-spacing="-0.25" stroke="#fff" stroke-width="0.3">1.11000</text>
<path d="M1734 230h54a2 2 0 0 1 2 2v13a2 2 0 0 1-2 2h-54z" fill="#000"/>
<text x="1742.6" y="242.8" font-size="12" fill="#fff" letter-spacing="-0.25" stroke="#fff" stroke-width="0.3">1.10000</text>
<path d="M1734 359h54a2 2 0 0 1 2 2v13a2 2 0 0 1-2 2h-54z" fill="#000"/>
<text x="1742.6" y="371.8" font-size="12" fill="#fff" letter-spacing="-0.25" stroke="#fff" stroke-width="0.3">1.08429</text>
<path d="M1734 485h54a2 2 0 0 1 2 2v13a2 2 0 0 1-2 2h-54z" fill="#cc3d48"/>
<text x="1742.6" y="497.8" font-size="12" fill="#fff" letter-spacing="-0.25" stroke="#fff" stroke-width="0.3">1.06892</text>
<path d="M1734 527h54a2 2 0 0 1 2 2v13a2 2 0 0 1-2 2h-54z" fill="#1b3329"/>
<text x="1742.6" y="539.8" font-size="12" fill="#fff" letter-spacing="-0.25" stroke="#fff" stroke-width="0.3">1.06377</text>
<path d="M1734 623h54a2 2 0 0 1 2 2v13a2 2 0 0 1-2 2h-54z" fill="#cc3d48"/>
<text x="1742.6" y="635.8" font-size="12" fill="#fff" letter-spacing="-0.25" stroke="#fff" stroke-width="0.3">1.05217</text>
<path d="M1734 641h54a2 2 0 0 1 2 2v13a2 2 0 0 1-2 2h-54z" fill="#000"/>
<text x="1742.6" y="653.8" font-size="12" fill="#fff" letter-spacing="-0.25" stroke="#fff" stroke-width="0.3">1.05000</text>
<path d="M1734 658h54a2 2 0 0 1 2 2v13a2 2 0 0 1-2 2h-54z" fill="#4a64fb"/>
<text x="1742.6" y="670.8" font-size="12" fill="#fff" letter-spacing="-0.25" stroke="#fff" stroke-width="0.3">1.05000</text>
<g font-size="12" fill="#131722" text-anchor="middle">
<text x="75" y="751.3">19</text>
<text x="166" y="751.3" font-weight="bold">2023</text>
<text x="257" y="751.3">16</text>
<text x="366" y="751.3">Feb</text>
<text x="448" y="751.3">14</text>
<text x="547" y="751.3">Mar</text>
<text x="665" y="751.3">20</text>
<text x="756" y="751.3">Apr</text>
<text x="847" y="751.3">17</text>
<text x="937" y="751.3">May</text>
<text x="1028" y="751.3">15</text>
<text x="1146" y="751.3">Jun</text>
<text x="1255" y="751.3">19</text>
<text x="1346" y="751.3">Jul</text>
<text x="1436" y="751.3">17</text>
<text x="1536" y="751.3">Aug</text>
<text x="1618" y="751.3">14</text>
</g>
<g fill="none" stroke="#4a4e5a" stroke-width="1.2"><path d="M1758.2 748l3.5-6.3h7l3.5 6.3l-3.5 6.3h-7z"/><circle cx="1765.2" cy="748" r="1.8"/></g>
<g fill="#131722"><path d="M7 704h12v15h-6v-9.4H7z"/><circle cx="23.9" cy="707" r="3"/><path d="M30.4 704h6.5l-6.3 15h-6.6z"/></g>
<rect x="0" y="27" width="160" height="17" fill="#fff" fill-opacity="0.55"/>
<g>
<clipPath id="us"><circle cx="16" cy="8.8" r="6.1"/></clipPath>
<g clip-path="url(#us)"><rect x="9" y="2" width="14" height="14" fill="#fff"/>
<rect x="9" y="3.1" width="14" height="2.3" fill="#d74b41"/>
<rect x="9" y="7.7" width="14" height="2.3" fill="#d74b41"/>
<rect x="9" y="12.2" width="14" height="3" fill="#d74b41"/>
<rect x="9" y="2" width="8.2" height="8.2" fill="#4a7bdc"/>
<circle cx="11.2" cy="4.4" r="0.55" fill="#fff"/>
<circle cx="11.2" cy="6.5" r="0.55" fill="#fff"/>
<circle cx="11.2" cy="8.7" r="0.55" fill="#fff"/>
<circle cx="13.4" cy="4.4" r="0.55" fill="#fff"/>
<circle cx="13.4" cy="6.5" r="0.55" fill="#fff"/>
<circle cx="13.4" cy="8.7" r="0.55" fill="#fff"/>
<circle cx="15.5" cy="4.4" r="0.55" fill="#fff"/>
<circle cx="15.5" cy="6.5" r="0.55" fill="#fff"/>
<circle cx="15.5" cy="8.7" r="0.55" fill="#fff"/>
</g>
<circle cx="16" cy="8.8" r="5.9" fill="none" stroke="#cfd4e0" stroke-width="0.5"/>
<circle cx="10" cy="15" r="7" fill="#fff"/>
<circle cx="10" cy="15" r="6.1" fill="#3a63c0"/>
<circle cx="10.00" cy="11.45" r="0.7" fill="#f4d13d"/>
<circle cx="12.51" cy="12.49" r="0.7" fill="#f4d13d"/>
<circle cx="13.55" cy="15.00" r="0.7" fill="#f4d13d"/>
<circle cx="12.51" cy="17.51" r="0.7" fill="#f4d13d"/>
<circle cx="10.00" cy="18.55" r="0.7" fill="#f4d13d"/>
<circle cx="7.49" cy="17.51" r="0.7" fill="#f4d13d"/>
<circle cx="6.45" cy="15.00" r="0.7" fill="#f4d13d"/>
<circle cx="7.49" cy="12.49" r="0.7" fill="#f4d13d"/>
</g>
<text x="26.2" y="18.2" font-size="15" letter-spacing="0.12" fill="#131722" id="title">Euro / U.S. Dollar · 1D · FOREX.com</text>
<text x="4.5" y="40.8" font-size="12" fill="#b2b5be" id="leg">EMA 34 close 0 SMA 5</text>
<g fill="none" stroke="#131722" stroke-width="1.15"><path d="M137.2 35.8c2.4-3.9 4.9-5.5 7.9-5.5s5.5 1.6 7.9 5.5c-2.4 3.9-4.9 5.5-7.9 5.5s-5.5-1.6-7.9-5.5z"/><circle cx="145.1" cy="35.8" r="2.7"/><path d="M138.4 41.1l11.8-12" stroke="#fff" stroke-width="1.2"/><path d="M139.2 41.9l11.8-12" stroke-width="1.15"/></g>
<rect x="4.5" y="50.5" width="28" height="20" rx="3" fill="#fff" stroke="#d1d4dc"/>
<path d="M14.3 62.4l4.2-3.8l4.2 3.8" fill="none" stroke="#131722" stroke-width="1.3"/>
</svg></body></html>
